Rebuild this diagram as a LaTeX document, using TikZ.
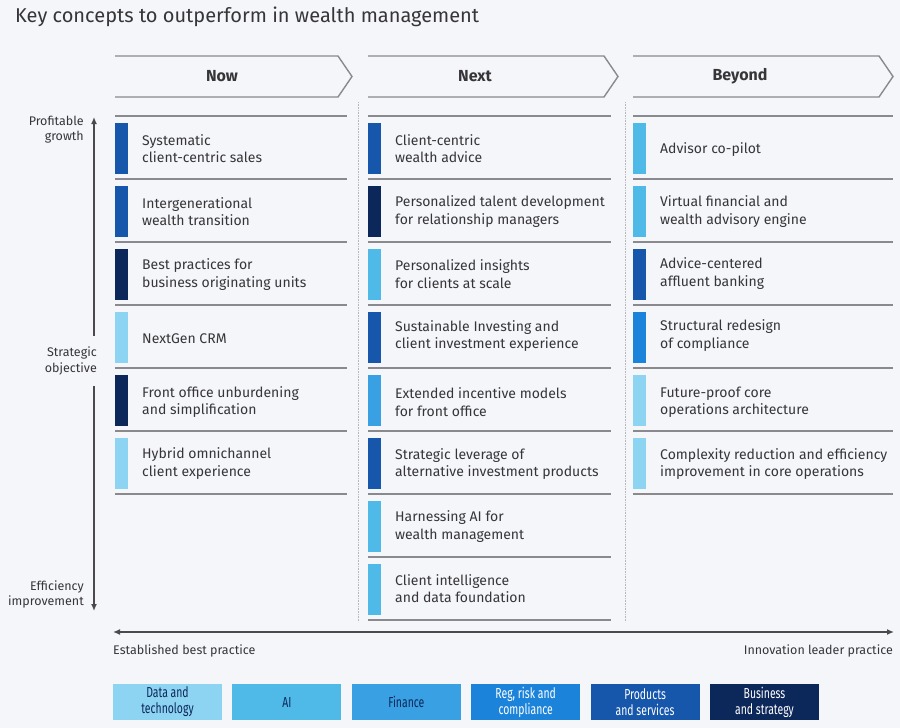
\documentclass[tikz,border=0pt]{standalone}
\usepackage{fontspec}
\setmainfont{Fira Sans}
\newfontfamily\condfont{Fira Sans}[FakeStretch=0.72]
\usepackage{xcolor}
\usepackage{tikz}
\usetikzlibrary{arrows.meta,positioning}

\definecolor{bgcol}{HTML}{F5F6FA}
\definecolor{datacol}{HTML}{8DD3F2}
\definecolor{aicol}{HTML}{4FB9E8}
\definecolor{fincol}{HTML}{39A1E3}
\definecolor{regcol}{HTML}{1C83DA}
\definecolor{prodcol}{HTML}{1656AB}
\definecolor{buscol}{HTML}{0C2759}
\definecolor{rulecol}{HTML}{8A8A8E}
\definecolor{txtcol}{HTML}{363638}

\begin{document}
\begin{tikzpicture}[x=1pt,y=-1pt,
  item/.style={anchor=west,align=left,inner sep=0pt,text=txtcol,
    font=\fontsize{14}{17.5}\selectfont},
  axislbl/.style={anchor=east,align=right,inner sep=0pt,text=txtcol,
    font=\fontsize{12.5}{15.5}\selectfont},
  headtxt/.style={text=txtcol,font=\fontsize{16}{18}\selectfont\bfseries},
  chevron/.style={draw=rulecol,line width=1.4pt},
  rowrule/.style={draw=rulecol,line width=1.4pt},
  sepline/.style={draw=rulecol!60,line width=0.6pt,densely dotted},
  axis/.style={draw=txtcol!90,line width=1.4pt,-{Latex[length=7pt,width=6pt]}},
  legbox/.style={minimum width=109pt,minimum height=36pt,inner sep=0pt,align=center,
    font=\condfont\fontsize{14.5}{16}\selectfont}]
  \fill[bgcol] (0,0) rectangle (900,728);
  \node[anchor=base west,inner sep=0pt,text=txtcol,font=\fontsize{20}{24}\selectfont] (title) at (15,22) {Key concepts to outperform in wealth management};

  % headers
  \draw[chevron] (115,56) -- (338,56) -- (352,76.5) -- (338,97) -- (115,97);
  \node[headtxt] (hnow) at (222,76.5) {Now};
  \draw[chevron] (368,56) -- (604,56) -- (618,76.5) -- (604,97) -- (368,97);
  \node[headtxt] (hnext) at (475,76.5) {Next};
  \draw[chevron] (633,56) -- (879,56) -- (893,76.5) -- (879,97) -- (633,97);
  \node[headtxt] (hbeyond) at (740,76.5) {Beyond};

  % column separators
  \draw[sepline] (358,102) -- (358,622);
  \draw[sepline] (625,102) -- (625,622);

  % Now
  \draw[rowrule] (115,116) -- (347,116);
  \fill[prodcol] (115,123) rectangle (128,174);
  \node[item] (now1) at (142,148.5) {Systematic\\client-centric sales};
  \draw[rowrule] (115,179) -- (347,179);
  \fill[prodcol] (115,186) rectangle (128,237);
  \node[item] (now2) at (142,211.5) {Intergenerational\\wealth transition};
  \draw[rowrule] (115,242) -- (347,242);
  \fill[buscol] (115,249) rectangle (128,300);
  \node[item] (now3) at (142,274.5) {Best practices for\\business originating units};
  \draw[rowrule] (115,305) -- (347,305);
  \fill[datacol] (115,312) rectangle (128,363);
  \node[item] (now4) at (142,338.5) {NextGen CRM};
  \draw[rowrule] (115,368) -- (347,368);
  \fill[buscol] (115,375) rectangle (128,426);
  \node[item] (now5) at (142,402) {Front office unburdening\\and simplification};
  \draw[rowrule] (115,431) -- (347,431);
  \fill[datacol] (115,438) rectangle (128,489);
  \node[item] (now6) at (142,463.5) {Hybrid omnichannel\\client experience};
  \draw[rowrule] (115,494) -- (347,494);

  % Next
  \draw[rowrule] (368,116) -- (611,116);
  \fill[prodcol] (368,123) rectangle (381,174);
  \node[item] (next1) at (395,148.5) {Client-centric\\wealth advice};
  \draw[rowrule] (368,179) -- (611,179);
  \fill[buscol] (368,186) rectangle (381,237);
  \node[item] (next2) at (395,211.5) {Personalized talent development\\for relationship managers};
  \draw[rowrule] (368,242) -- (611,242);
  \fill[aicol] (368,249) rectangle (381,300);
  \node[item] (next3) at (395,274) {Personalized insights\\for clients at scale};
  \draw[rowrule] (368,305) -- (611,305);
  \fill[prodcol] (368,312) rectangle (381,363);
  \node[item] (next4) at (395,336) {Sustainable Investing and\\client investment experience};
  \draw[rowrule] (368,368) -- (611,368);
  \fill[fincol] (368,375) rectangle (381,426);
  \node[item] (next5) at (395,402) {Extended incentive models\\for front office};
  \draw[rowrule] (368,431) -- (611,431);
  \fill[prodcol] (368,438) rectangle (381,489);
  \node[item] (next6) at (395,464) {Strategic leverage of\\alternative investment products};
  \draw[rowrule] (368,494) -- (611,494);
  \fill[aicol] (368,501) rectangle (381,552);
  \node[item] (next7) at (395,526.5) {Harnessing AI for\\wealth management};
  \draw[rowrule] (368,557) -- (611,557);
  \fill[aicol] (368,564) rectangle (381,615);
  \node[item] (next8) at (395,588.5) {Client intelligence\\and data foundation};
  \draw[rowrule] (368,620) -- (611,620);

  % Beyond
  \draw[rowrule] (633,116) -- (893,116);
  \fill[aicol] (633,123) rectangle (646,174);
  \node[item] (bey1) at (660,149.5) {Advisor co-pilot};
  \draw[rowrule] (633,179) -- (893,179);
  \fill[aicol] (633,186) rectangle (646,237);
  \node[item] (bey2) at (660,211.5) {Virtual financial and\\wealth advisory engine};
  \draw[rowrule] (633,242) -- (893,242);
  \fill[prodcol] (633,249) rectangle (646,300);
  \node[item] (bey3) at (660,273.5) {Advice-centered\\affluent banking};
  \draw[rowrule] (633,305) -- (893,305);
  \fill[regcol] (633,312) rectangle (646,363);
  \node[item] (bey4) at (660,335.5) {Structural redesign\\of compliance};
  \draw[rowrule] (633,368) -- (893,368);
  \fill[datacol] (633,375) rectangle (646,426);
  \node[item] (bey5) at (660,402) {Future-proof core\\operations architecture};
  \draw[rowrule] (633,431) -- (893,431);
  \fill[datacol] (633,438) rectangle (646,489);
  \node[item] (bey6) at (660,464) {Complexity reduction and efficiency\\improvement in core operations};
  \draw[rowrule] (633,494) -- (893,494);

  % vertical axis
  \node[axislbl] (growth) at (84,129.5) {Profitable\\growth};
  \node[axislbl] (objective) at (97,361) {Strategic\\objective};
  \node[axislbl] (effic) at (84,594.5) {Efficiency\\improvement};
  \coordinate (vtop) at (94,117);
  \coordinate (vgapa) at (94,336);
  \coordinate (vgapb) at (94,386);
  \coordinate (vbot) at (94,611);
  \draw[axis] (vgapa) -- (vtop);
  \draw[axis] (vgapb) -- (vbot);

  % horizontal axis
  \coordinate (hleft) at (113,632);
  \coordinate (hright) at (894,632);
  \draw[axis,{Latex[length=7pt,width=6pt]}-{Latex[length=7pt,width=6pt]}] (hleft) -- (hright);
  \node[anchor=west,inner sep=0pt,text=txtcol,font=\fontsize{12.5}{15}\selectfont] (estab) at (113,651) {Established best practice};
  \node[anchor=east,inner sep=0pt,text=txtcol,font=\fontsize{12.5}{15}\selectfont] (innov) at (893,651) {Innovation leader practice};

  % legend
  \node[legbox,fill=datacol,text=buscol] (ldata) at (167.5,702) {Data and\\technology};
  \node[legbox,fill=aicol,text=buscol,right=10pt of ldata] (lai) {AI};
  \node[legbox,fill=fincol,text=buscol,right=10pt of lai] (lfin) {Finance};
  \node[legbox,fill=regcol,text=white,right=10pt of lfin] (lreg) {Reg, risk and\\compliance};
  \node[legbox,fill=prodcol,text=white,right=10pt of lreg] (lprod) {Products\\and services};
  \node[legbox,fill=buscol,text=white,right=10pt of lprod] (lbus) {Business\\and strategy};
\end{tikzpicture}
\end{document}
